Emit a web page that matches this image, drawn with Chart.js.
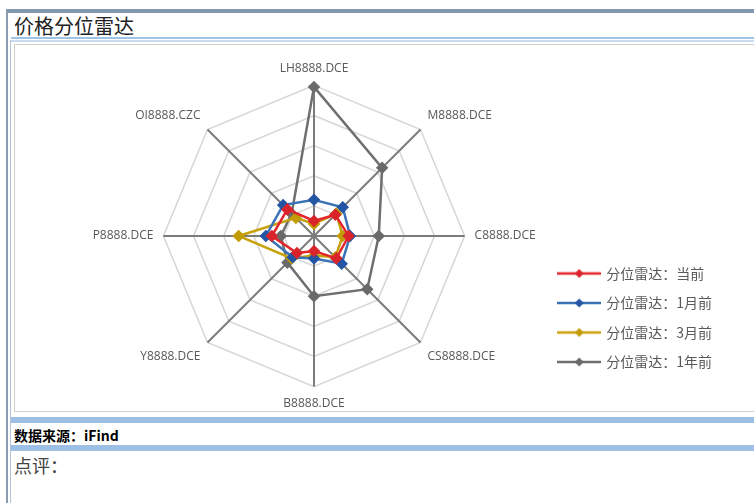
<!DOCTYPE html>
<html>
<head>
<meta charset="utf-8">
<script src="https://cdn.jsdelivr.net/npm/chart.js@4"></script>
<style>
  body { margin: 0; background: #fff; width: 754px; height: 503px; position: relative; overflow: hidden; font-family: "Noto Sans CJK SC", sans-serif; }
  .abs { position: absolute; }
  #topbar { left: 8px; top: 9px; width: 760px; height: 4px; background: #8497b0; }
  #vline1 { left: 6px; top: 9px; width: 2px; height: 500px; background: #8a9ab0; }
  #vline2 { left: 10px; top: 40px; width: 1px; height: 470px; background: #b4c4d8; }
  #title { left: 14px; top: 13px; font-size: 20px; line-height: 26px; color: #222; }
  #blue1 { left: 11px; top: 37px; width: 760px; height: 2px; background: #9dc3e6; }
  #blue2 { left: 11px; top: 40px; width: 760px; height: 2px; background: #c9dcf0; }
  #frame { left: 14px; top: 44px; width: 760px; height: 366px; border: 1px solid #cfcfcf; }
  #wrap { left: 15px; top: 46px; width: 739px; height: 366px; }
  #blue3 { left: 11px; top: 417px; width: 760px; height: 6px; background: #9dbfe6; }
  #source { left: 14px; top: 426px; font-size: 14px; line-height: 18px; font-weight: bold; color: #000; }
  #blue4 { left: 11px; top: 445px; width: 760px; height: 6px; background: #9dbfe6; }
  #comment { left: 14px; top: 453px; font-size: 18px; line-height: 24px; color: #444; }
</style>
</head>
<body>
<div class="abs" id="topbar"></div>
<div class="abs" id="vline1"></div>
<div class="abs" id="vline2"></div>
<div class="abs" id="title">价格分位雷达</div>
<div class="abs" id="blue1"></div>
<div class="abs" id="blue2"></div>
<div class="abs" id="frame"></div>
<div class="abs" id="wrap"><canvas id="myChart"></canvas></div>
<div class="abs" id="blue3"></div>
<div class="abs" id="source">数据来源：iFind</div>
<div class="abs" id="blue4"></div>
<div class="abs" id="comment">点评：</div>
<script>
// setup
const categories = ['LH8888.DCE', 'M8888.DCE', 'C8888.DCE', 'CS8888.DCE', 'B8888.DCE', 'Y8888.DCE', 'P8888.DCE', 'OI8888.CZC'];
const seriesNames = ['分位雷达：当前', '分位雷达：1月前', '分位雷达：3月前', '分位雷达：1年前'];
const nowValues = [0.10, 0.20, 0.23, 0.21, 0.10, 0.16, 0.28, 0.25];
const oneMonthValues = [0.24, 0.27, 0.24, 0.26, 0.15, 0.20, 0.32, 0.29];
const threeMonthValues = [0.08, 0.21, 0.19, 0.20, 0.13, 0.21, 0.50, 0.17];
const oneYearValues = [0.99, 0.64, 0.43, 0.50, 0.40, 0.25, 0.22, 0.21];
const seriesColors = ['#e4262c', '#3a72b8', '#c8a20c', '#6f6f6f'];
const markerColors = ['#d8242a', '#2456a5', '#c29c08', '#6a6a6a'];

// legend marker: short line with a diamond in the middle
function legendMarker(lineColor, dotColor) {
  const c = document.createElement('canvas');
  c.width = 44; c.height = 12;
  const ctx = c.getContext('2d');
  ctx.strokeStyle = lineColor;
  ctx.lineWidth = 2.5;
  ctx.beginPath(); ctx.moveTo(0, 6); ctx.lineTo(44, 6); ctx.stroke();
  ctx.fillStyle = dotColor;
  ctx.beginPath(); ctx.moveTo(22, 1.5); ctx.lineTo(26.5, 6); ctx.lineTo(22, 10.5); ctx.lineTo(17.5, 6); ctx.closePath(); ctx.fill();
  return c;
}

const allValues = [nowValues, oneMonthValues, threeMonthValues, oneYearValues];
const data = {
  labels: categories,
  datasets: allValues.map((vals, i) => ({
    label: seriesNames[i],
    data: vals,
    borderColor: seriesColors[i],
    backgroundColor: markerColors[i],
    pointBackgroundColor: markerColors[i],
    pointBorderColor: markerColors[i],
    pointStyle: 'rectRot',
    pointRadius: 4.5,
    borderWidth: 2.5,
    fill: false
  }))
};

// config
const config = {
  type: 'radar',
  data: data,
  options: {
    responsive: true,
    maintainAspectRatio: false,
    animation: false,
    layout: { padding: { left: 70, right: 32, top: 15, bottom: 0 } },
    scales: {
      r: {
        min: 0,
        max: 1,
        ticks: { stepSize: 0.2, display: false },
        grid: { color: '#d6d6d6', lineWidth: 1.5 },
        angleLines: { color: '#7b7b7b', lineWidth: 2 },
        pointLabels: {
          color: '#595959',
          padding: 10,
          font: { family: '"Open Sans", sans-serif', size: 12 }
        }
      }
    },
    plugins: {
      tooltip: { enabled: false },
      legend: {
        position: 'right',
        align: 'start',
        title: { display: true, text: '', font: { size: 10, lineHeight: 1 }, padding: { top: 180, bottom: 0 } },
        labels: {
          usePointStyle: true,
          pointStyleWidth: 40,
          padding: 15.5,
          color: '#595959',
          font: { family: '"Noto Sans CJK SC", sans-serif', size: 14 },
          generateLabels: (chart) => chart.data.datasets.map((ds, i) => ({
            text: ds.label,
            pointStyle: legendMarker(seriesColors[i], markerColors[i]),
            fontColor: '#595959',
            strokeStyle: 'transparent',
            fillStyle: 'transparent',
            lineWidth: 0,
            hidden: false,
            datasetIndex: i
          }))
        }
      }
    }
  }
};

// render init block
const myChart = new Chart(document.getElementById('myChart'), config);
</script>
</body>
</html>
